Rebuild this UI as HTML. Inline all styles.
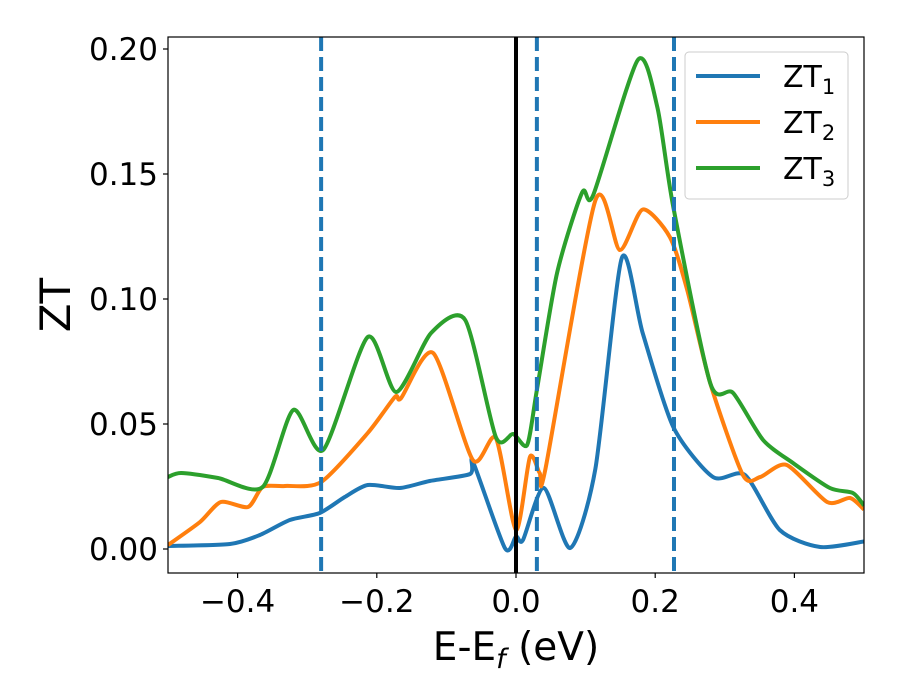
<!DOCTYPE html>
<html><head><meta charset="utf-8"><style>
body{margin:0;background:#fff}
svg{display:block;font-family:"DejaVu Sans","Liberation Sans",sans-serif}
</style></head><body>
<svg id="chart" width="900" height="700" viewBox="0 0 900 700" xmlns="http://www.w3.org/2000/svg">
<defs><clipPath id="clip"><rect x="168" y="37" width="696" height="536"/></clipPath></defs>
<rect width="900" height="700" fill="#fff"/>
<g id="series" clip-path="url(#clip)"></g>
<g id="axes"></g>
</svg>
<script>
const xTicks=[-0.4,-0.2,0.0,0.2,0.4];
const xTickLabels=["−0.4","−0.2","0.0","0.2","0.4"];
const yTicks=[0,0.05,0.10,0.15,0.20];
const yTickLabels=["0.00","0.05","0.10","0.15","0.20"];
const vDashed=[-0.28,0.03,0.227];
const vSolid=[0.0];
const zt1E=[-0.5,-0.411,-0.368,-0.325,-0.282,-0.246,-0.213,-0.167,-0.124,-0.066,-0.062,-0.016,0.0,0.01,0.04,0.078,0.114,0.152,0.182,0.226,0.283,0.329,0.379,0.437,0.5];
const zt1V=[0.0012,0.002,0.0056,0.0116,0.0144,0.0208,0.0256,0.0244,0.0272,0.030,0.035,0.0004,0.005,0.0036,0.0244,0.0004,0.032,0.1164,0.0864,0.0488,0.0288,0.0296,0.0076,0.0008,0.003];
const zt2E=[-0.5,-0.454,-0.424,-0.385,-0.364,-0.332,-0.28,-0.213,-0.174,-0.165,-0.119,-0.062,-0.029,0.0,0.02,0.034,0.042,0.114,0.149,0.182,0.221,0.246,0.279,0.326,0.351,0.389,0.447,0.48,0.5];
const zt2V=[0.0016,0.0108,0.0188,0.0168,0.0248,0.0252,0.0268,0.0464,0.0608,0.0604,0.0784,0.0356,0.0444,0.0076,0.0368,0.0304,0.0316,0.1394,0.1196,0.1358,0.1248,0.1036,0.0664,0.0296,0.0288,0.0336,0.0188,0.0204,0.0158];
const zt3E=[-0.5,-0.481,-0.428,-0.364,-0.32,-0.277,-0.213,-0.172,-0.122,-0.073,-0.029,-0.004,0.016,0.03,0.059,0.095,0.111,0.175,0.203,0.226,0.279,0.312,0.355,0.398,0.451,0.484,0.5];
const zt3V=[0.0288,0.0304,0.0284,0.0248,0.0556,0.0396,0.0848,0.0628,0.0864,0.0916,0.0448,0.046,0.0416,0.0636,0.1104,0.1426,0.1416,0.1956,0.1768,0.1368,0.0664,0.0624,0.0436,0.0344,0.0244,0.0224,0.0174];

const L=168,R=864,T=37,B=573,xmin=-0.5,xmax=0.5,ymin=-0.0096,ymax=0.2048;
const X=e=>L+(e-xmin)/(xmax-xmin)*(R-L);
const Y=v=>B-(v-ymin)/(ymax-ymin)*(B-T);
const NS="http://www.w3.org/2000/svg";
function mk(tag,attrs,parent){const el=document.createElementNS(NS,tag);for(const k in attrs)el.setAttribute(k,attrs[k]);parent.appendChild(el);return el;}
const sg=document.getElementById('series'),ag=document.getElementById('axes');

function smooth(E,V){
  const p=E.map((e,i)=>[X(e),Y(V[i])]);
  let d=`M${p[0][0]},${p[0][1]}`;
  for(let i=0;i<p.length-1;i++){
    const p0=p[Math.max(0,i-1)],p1=p[i],p2=p[i+1],p3=p[Math.min(p.length-1,i+2)];
    const c1=[p1[0]+(p2[0]-p0[0])/8,p1[1]+(p2[1]-p0[1])/8];
    const c2=[p2[0]-(p3[0]-p1[0])/8,p2[1]-(p3[1]-p1[1])/8];
    d+=`C${c1[0]},${c1[1]} ${c2[0]},${c2[1]} ${p2[0]},${p2[1]}`;
  }
  return d;
}
const series=[[zt1E,zt1V,'#1f77b4','zt1-line'],[zt2E,zt2V,'#ff7f0e','zt2-line'],[zt3E,zt3V,'#2ca02c','zt3-line']];
series.forEach(s=>{
  const el=mk('path',{d:smooth(s[0],s[1]),fill:'none',stroke:s[2],'stroke-width':4,'stroke-linejoin':'round'},sg);
  
  
});
vSolid.forEach(v=>{
  const el=mk('line',{x1:X(v),x2:X(v),y1:T,y2:B,stroke:'#000','stroke-width':4},sg);
  
  
});
vDashed.forEach(v=>{
  const el=mk('line',{x1:X(v),x2:X(v),y1:T,y2:B,stroke:'#1f77b4','stroke-width':4,'stroke-dasharray':'14,6'},sg);
  
  
});
const frame=mk('rect',{x:L,y:T,width:R-L,height:B-T,fill:'none',stroke:'#000','stroke-width':1.2},ag);


xTicks.forEach((t,i)=>{
  mk('line',{x1:X(t),x2:X(t),y1:B,y2:B+5,stroke:'#000','stroke-width':1.2},ag);
  const tx=mk('text',{x:X(t),y:B+39,'text-anchor':'middle','font-size':31},ag);
  tx.textContent=xTickLabels[i];
  
  
});
yTicks.forEach((t,i)=>{
  mk('line',{x1:L-5,x2:L,y1:Y(t),y2:Y(t),stroke:'#000','stroke-width':1.2},ag);
  const tx=mk('text',{x:L-10,y:Y(t)+11,'text-anchor':'end','font-size':31},ag);
  tx.textContent=yTickLabels[i];
  
  
});
</script>
<script>
(function(){
const svg=document.getElementById('chart');
const NS="http://www.w3.org/2000/svg";
const xl=document.createElementNS(NS,'text');
xl.setAttribute('x',516);xl.setAttribute('y',660);xl.setAttribute('text-anchor','middle');xl.setAttribute('font-size',39);
xl.innerHTML='E-E<tspan font-style="italic" font-size="27" dy="8">f</tspan><tspan dy="-8"> (eV)</tspan>';


svg.appendChild(xl);
const yl=document.createElementNS(NS,'text');
yl.setAttribute('transform','translate(70,305) rotate(-90)');yl.setAttribute('text-anchor','middle');yl.setAttribute('font-size',42);
yl.textContent='ZT';


svg.appendChild(yl);
const lg=document.createElementNS(NS,'g');


svg.appendChild(lg);
const box=document.createElementNS(NS,'rect');
box.setAttribute('x',685);box.setAttribute('y',52);box.setAttribute('width',163);box.setAttribute('height',147);box.setAttribute('rx',4);
box.setAttribute('fill','#fff');box.setAttribute('fill-opacity','0.8');box.setAttribute('stroke','#ccc');
lg.appendChild(box);
const cols=['#1f77b4','#ff7f0e','#2ca02c'],subs=['1','2','3'];
cols.forEach((c,i)=>{
  const y=76+i*46;
  const ln=document.createElementNS(NS,'line');
  ln.setAttribute('x1',696);ln.setAttribute('x2',760);ln.setAttribute('y1',y);ln.setAttribute('y2',y);ln.setAttribute('stroke',c);ln.setAttribute('stroke-width',4);
  
  
  lg.appendChild(ln);
  const t=document.createElementNS(NS,'text');
  t.setAttribute('x',783);t.setAttribute('y',y+11);t.setAttribute('font-size',30);
  t.innerHTML='ZT<tspan font-size="21" dy="7">'+subs[i]+'</tspan>';
  
  
  lg.appendChild(t);
});
})();
</script>
</body></html>
